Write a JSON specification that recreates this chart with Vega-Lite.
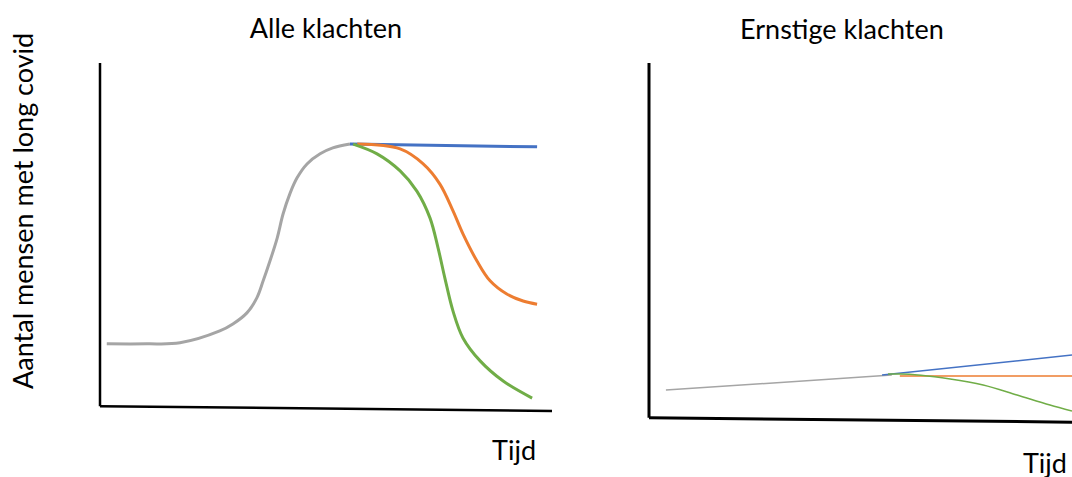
{
 "$schema": "https://vega.github.io/schema/vega-lite/v6.json",
 "padding": {"left": 11, "top": 15, "right": 0, "bottom": 0},
 "bounds": "flush",
 "spacing": 97,
 "config": {"view": {"stroke": null}},
 "datasets": {
  "left_lines": [
   {"reeks": "grijs", "t": 1.5, "v": 19.3},
   {"reeks": "grijs", "t": 10.4, "v": 19.3},
   {"reeks": "grijs", "t": 17.7, "v": 19.6},
   {"reeks": "grijs", "t": 26.5, "v": 23.0},
   {"reeks": "grijs", "t": 29.4, "v": 25.0},
   {"reeks": "grijs", "t": 32.5, "v": 28.2},
   {"reeks": "grijs", "t": 34.7, "v": 32.5},
   {"reeks": "grijs", "t": 36.1, "v": 37.4},
   {"reeks": "grijs", "t": 37.6, "v": 43.1},
   {"reeks": "grijs", "t": 39.2, "v": 49.7},
   {"reeks": "grijs", "t": 40.5, "v": 56.6},
   {"reeks": "grijs", "t": 42.0, "v": 62.4},
   {"reeks": "grijs", "t": 43.6, "v": 67.0},
   {"reeks": "grijs", "t": 45.8, "v": 71.0},
   {"reeks": "grijs", "t": 48.7, "v": 73.9},
   {"reeks": "grijs", "t": 51.5, "v": 75.6},
   {"reeks": "grijs", "t": 55.3, "v": 76.7},
   {"reeks": "blauw", "t": 55.3, "v": 76.7},
   {"reeks": "blauw", "t": 96.7, "v": 75.9},
   {"reeks": "oranje", "t": 56.9, "v": 76.7},
   {"reeks": "oranje", "t": 66.4, "v": 75.3},
   {"reeks": "oranje", "t": 71.5, "v": 71.0},
   {"reeks": "oranje", "t": 75.2, "v": 65.2},
   {"reeks": "oranje", "t": 78.1, "v": 57.5},
   {"reeks": "oranje", "t": 80.3, "v": 50.9},
   {"reeks": "oranje", "t": 83.4, "v": 43.1},
   {"reeks": "oranje", "t": 86.3, "v": 37.4},
   {"reeks": "oranje", "t": 90.0, "v": 33.6},
   {"reeks": "oranje", "t": 93.6, "v": 31.6},
   {"reeks": "oranje", "t": 96.7, "v": 30.7},
   {"reeks": "groen", "t": 56.0, "v": 76.7},
   {"reeks": "groen", "t": 61.3, "v": 73.9},
   {"reeks": "groen", "t": 66.4, "v": 69.0},
   {"reeks": "groen", "t": 70.1, "v": 63.2},
   {"reeks": "groen", "t": 73.0, "v": 55.5},
   {"reeks": "groen", "t": 74.8, "v": 46.8},
   {"reeks": "groen", "t": 76.3, "v": 38.2},
   {"reeks": "groen", "t": 78.1, "v": 28.7},
   {"reeks": "groen", "t": 80.3, "v": 21.0},
   {"reeks": "groen", "t": 84.1, "v": 14.4},
   {"reeks": "groen", "t": 89.2, "v": 8.6},
   {"reeks": "groen", "t": 95.6, "v": 3.7}
  ],
  "right_lines": [
   {"reeks": "grijs", "t": 4.0, "v": 8.4},
   {"reeks": "grijs", "t": 57.4, "v": 12.6},
   {"reeks": "blauw", "t": 55.1, "v": 12.6},
   {"reeks": "blauw", "t": 100, "v": 18.2},
   {"reeks": "oranje", "t": 59.3, "v": 12.3},
   {"reeks": "oranje", "t": 100, "v": 12.3},
   {"reeks": "groen", "t": 56.5, "v": 12.9},
   {"reeks": "groen", "t": 59.3, "v": 12.9},
   {"reeks": "groen", "t": 71.2, "v": 11.5},
   {"reeks": "groen", "t": 79.0, "v": 9.8},
   {"reeks": "groen", "t": 87.0, "v": 7.0},
   {"reeks": "groen", "t": 94.8, "v": 4.2},
   {"reeks": "groen", "t": 100, "v": 2.5}
  ],
  "left_axes": [
   {"x1": 0, "y1": 1.4, "x2": 0, "y2": 100},
   {"x1": 0, "y1": 1.4, "x2": 100, "y2": 0}
  ],
  "right_axes": [
   {"x1": 0, "y1": 0.6, "x2": 0, "y2": 100},
   {"x1": 0, "y1": 0.6, "x2": 100, "y2": -0.6}
  ],
  "left_labels": [
   {"x": 50, "y": 107.2, "label": "Alle klachten"},
   {"x": 91.6, "y": -14.1, "label": "Tijd"}
  ],
  "left_ylabel": [
   {"x": -14.8, "y": 57.5, "label": "Aantal mensen met long covid"}
  ],
  "right_labels": [
   {"x": 45.6, "y": 106.7, "label": "Ernstige klachten"},
   {"x": 93.6, "y": -14.8, "label": "Tijd"}
  ]
 },
 "hconcat": [
  {
   "width": 452,
   "height": 348,
   "layer": [
    {
     "data": {"name": "left_lines"},
     "mark": {"type": "line", "interpolate": "catmull-rom", "strokeWidth": 3},
     "encoding": {
      "x": {"field": "t", "type": "quantitative", "scale": {"domain": [0, 100], "nice": false, "zero": false}, "axis": null},
      "y": {"field": "v", "type": "quantitative", "scale": {"domain": [0, 100], "nice": false, "zero": false}, "axis": null},
      "color": {"field": "reeks", "type": "nominal", "scale": {"domain": ["grijs", "blauw", "oranje", "groen"], "range": ["#A5A5A5", "#4472C4", "#ED7D31", "#70AD47"]}, "legend": null}
     }
    },
    {
     "data": {"name": "left_axes"},
     "mark": {"type": "rule", "strokeWidth": 2.5, "color": "black"},
     "encoding": {
      "x": {"field": "x1", "type": "quantitative"},
      "y": {"field": "y1", "type": "quantitative"},
      "x2": {"field": "x2"},
      "y2": {"field": "y2"}
     }
    },
    {
     "data": {"name": "left_labels"},
     "mark": {"type": "text", "font": "Lato", "fontSize": 27, "color": "black", "align": "center", "baseline": "alphabetic"},
     "encoding": {
      "x": {"field": "x", "type": "quantitative"},
      "y": {"field": "y", "type": "quantitative"},
      "text": {"field": "label"}
     }
    },
    {
     "data": {"name": "left_ylabel"},
     "mark": {"type": "text", "font": "Lato", "fontSize": 27, "color": "black", "align": "center", "baseline": "alphabetic", "angle": 270},
     "encoding": {
      "x": {"field": "x", "type": "quantitative"},
      "y": {"field": "y", "type": "quantitative"},
      "text": {"field": "label"}
     }
    }
   ]
  },
  {
   "width": 423,
   "height": 357,
   "layer": [
    {
     "data": {"name": "right_lines"},
     "mark": {"type": "line", "interpolate": "monotone", "strokeWidth": 1.5},
     "encoding": {
      "x": {"field": "t", "type": "quantitative", "scale": {"domain": [0, 100], "nice": false, "zero": false}, "axis": null},
      "y": {"field": "v", "type": "quantitative", "scale": {"domain": [0, 100], "nice": false, "zero": false}, "axis": null},
      "color": {"field": "reeks", "type": "nominal", "scale": {"domain": ["grijs", "blauw", "oranje", "groen"], "range": ["#A5A5A5", "#4472C4", "#ED7D31", "#70AD47"]}, "legend": null}
     }
    },
    {
     "data": {"name": "right_axes"},
     "mark": {"type": "rule", "strokeWidth": 3, "color": "black"},
     "encoding": {
      "x": {"field": "x1", "type": "quantitative"},
      "y": {"field": "y1", "type": "quantitative"},
      "x2": {"field": "x2"},
      "y2": {"field": "y2"}
     }
    },
    {
     "data": {"name": "right_labels"},
     "mark": {"type": "text", "font": "Lato", "fontSize": 27, "color": "black", "align": "center", "baseline": "alphabetic"},
     "encoding": {
      "x": {"field": "x", "type": "quantitative"},
      "y": {"field": "y", "type": "quantitative"},
      "text": {"field": "label"}
     }
    }
   ]
  }
 ]
}
